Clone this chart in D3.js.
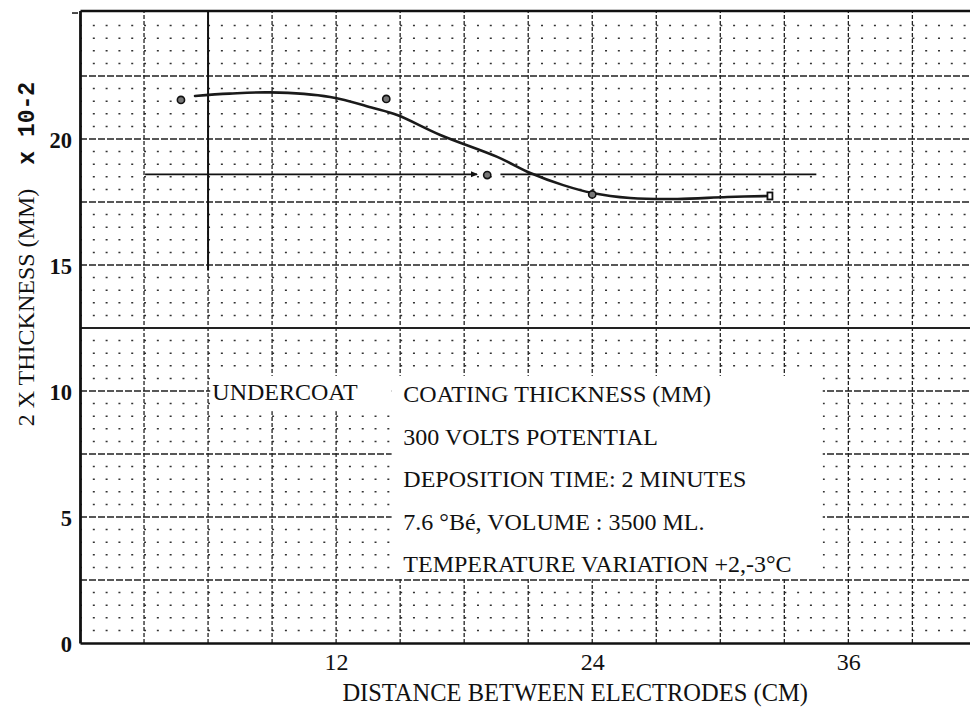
<!DOCTYPE html>
<html>
<head>
<meta charset="utf-8">
<script src="https://cdn.jsdelivr.net/npm/d3@7"></script>
<style>
  html, body { margin: 0; padding: 0; background: #fff; }
  svg { display: block; }
  text { font-family: "Liberation Serif", "Times New Roman", serif; fill: #111; }
</style>
</head>
<body>
<svg id="chart" width="970" height="710"></svg>
<script>
// Axis ticks
const xTicks = [12, 24, 36];
const yTicks = [0, 5, 10, 15, 20];

// Measured points (distance cm, 2x thickness mm x 10^-2)
const pointX = [4.73, 14.35, 19.08, 24.0];
const pointY = [21.55, 21.59, 18.57, 17.8];

// Smoothed thickness curve
const curveX = [5.39, 7.0, 8.91, 11.72, 13.74, 14.86, 16.88, 19.55, 21.1, 22.64, 24.0, 25.78, 27.99, 30.33, 32.35];
const curveY = [21.71, 21.8, 21.85, 21.67, 21.23, 20.95, 20.16, 19.29, 18.65, 18.17, 17.86, 17.66, 17.62, 17.7, 17.74];

// Horizontal reference level, drawn in two pieces around the middle point
const refLevel = 18.6;
const refStart = [3.05, 19.7];
const refEnd = [18.6, 34.5];

// Annotation text
const undercoatLabel = "UNDERCOAT";
const noteLines = [
  "COATING THICKNESS (MM)",
  "300 VOLTS POTENTIAL",
  "DEPOSITION TIME: 2 MINUTES",
  "7.6 °Bé, VOLUME : 3500 ML.",
  "TEMPERATURE VARIATION +2,-3°C"
];
const xTitle = "DISTANCE BETWEEN ELECTRODES (CM)";
const yTitleMain = "2 X THICKNESS (MM)";
const yTitleScale = "x 10-2";

const svg = d3.select("#chart");
const x = d3.scaleLinear().domain([0, 41.7]).range([80, 970]);
const y = d3.scaleLinear().domain([0, 25.1]).range([643, 10.5]);
const [x0, x1] = x.range();
const [yB, yT] = y.range();

// ---- graph-paper grid ----
const grid = svg.append("g");
const colStep = x(0.6) - x(0);
const minorRows = d3.range(1, 51).map(i => i * 0.5).filter(v => v % 2.5 !== 0 && v < 25.1);
grid.selectAll("line.row").data(minorRows).join("line")
  .attr("x1", x0).attr("x2", x1)
  .attr("y1", d => y(d)).attr("y2", d => y(d))
  .attr("stroke", "#333").attr("stroke-width", 1.5)
  .attr("stroke-dasharray", `2 ${colStep - 2}`);

const majorRows = d3.range(1, 11).map(i => i * 2.5).filter(v => v < 25);
grid.selectAll("line.major").data(majorRows).join("line")
  .attr("x1", x0).attr("x2", x1)
  .attr("y1", d => y(d)).attr("y2", d => y(d))
  .attr("stroke", "#222")
  .attr("stroke-width", d => d === 12.5 ? 1.8 : 1.3)
  .attr("stroke-dasharray", d => d === 12.5 ? null : "7 2");

const majorCols = d3.range(1, 14).map(i => i * 3).filter(v => v < 41.7);
grid.selectAll("line.col").data(majorCols).join("line")
  .attr("x1", d => x(d)).attr("x2", d => x(d))
  .attr("y1", yB).attr("y2", yT)
  .attr("stroke", "#222")
  .attr("stroke-width", 1.3)
  .attr("stroke-dasharray", "4 2");
// heavier solid upper part of the 6 cm line
grid.append("line")
  .attr("x1", x(6)).attr("x2", x(6))
  .attr("y1", y(14.8)).attr("y2", yT)
  .attr("stroke", "#111").attr("stroke-width", 2);

// ---- cleared areas behind the annotation ----
const noteX = 15.15;
const noteTop = 10.6, noteBottom = 2.55;
svg.append("rect")
  .attr("x", x(6.1)).attr("y", y(noteTop))
  .attr("width", x(noteX - 0.55) - x(6.1)).attr("height", y(9.2) - y(noteTop))
  .attr("fill", "#fff");
svg.append("rect")
  .attr("x", x(noteX - 0.55)).attr("y", y(noteTop))
  .attr("width", x(34.8) - x(noteX - 0.55)).attr("height", y(noteBottom) - y(noteTop))
  .attr("fill", "#fff");

// ---- frame / axes ----
const frame = svg.append("g");
frame.append("g").attr("transform", `translate(0,${yT})`)
  .call(d3.axisTop(x).tickValues([]).tickSizeOuter(0))
  .call(g => g.select(".domain").attr("stroke", "#111").attr("stroke-width", 2.6));

const xAxis = frame.append("g").attr("transform", `translate(0,${yB})`)
  .call(d3.axisBottom(x).tickValues(xTicks).tickSize(0).tickSizeOuter(0));
xAxis.select(".domain").attr("stroke", "#111").attr("stroke-width", 2.6);
xAxis.selectAll("text")
  .attr("y", 27).attr("dy", 0)
  .style("font-family", '"Liberation Serif", serif')
  .style("font-size", "24px").attr("fill", "#111");

const yAxis = frame.append("g").attr("transform", `translate(${x0},0)`)
  .call(d3.axisLeft(y).tickValues(yTicks).tickSize(0).tickPadding(8).tickSizeOuter(0));
yAxis.select(".domain").attr("stroke", "#111").attr("stroke-width", 2.8);
yAxis.selectAll("text")
  .attr("dy", "0.36em")
  .style("font-family", '"Liberation Serif", serif')
  .style("font-weight", "bold")
  .style("font-size", "22.5px").attr("fill", "#111");
// small tick at the top of the scale
yAxis.append("line")
  .attr("x1", -8).attr("x2", -2)
  .attr("y1", y(25)).attr("y2", y(25))
  .attr("stroke", "#111").attr("stroke-width", 1.5);

// ---- titles ----
svg.append("text")
  .attr("x", x(23.2)).attr("y", 701)
  .attr("text-anchor", "middle")
  .style("font-size", "24.5px")
  .text(xTitle);

const yt = svg.append("text")
  .attr("transform", `translate(34,${y(8.6)}) rotate(-90)`)
  .attr("text-anchor", "start")
  .style("font-size", "24px");
yt.append("tspan").text(yTitleMain);
yt.append("tspan")
  .attr("dx", 24)
  .style("font-family", '"Liberation Mono", "DejaVu Sans Mono", monospace')
  .style("font-weight", "bold")
  .style("font-size", "23px")
  .text(yTitleScale);

// ---- annotation ----
svg.append("text")
  .attr("x", x(6.2)).attr("y", y(9.65))
  .style("font-size", "24px")
  .text(undercoatLabel);

const lineGap = 42.5;
svg.append("g").selectAll("text").data(noteLines).join("text")
  .attr("x", x(noteX))
  .attr("y", (d, i) => y(9.56) + i * lineGap)
  .style("font-size", "24px")
  .text(d => d);

// ---- data marks ----
const marks = svg.append("g");

// reference level with arrow tip and gap around the middle point
marks.selectAll("line.ref").data(d3.range(refStart.length)).join("line")
  .attr("x1", i => x(refStart[i])).attr("x2", i => x(refEnd[i]))
  .attr("y1", y(refLevel)).attr("y2", y(refLevel))
  .attr("stroke", "#111").attr("stroke-width", 1.8);
const tipX = x(refEnd[0]), tipY = y(refLevel);
marks.append("path")
  .attr("d", `M${tipX - 6},${tipY - 3}L${tipX + 1},${tipY}L${tipX - 6},${tipY + 3}Z`)
  .attr("fill", "#111");

// thickness curve
const curvePts = curveX.map((d, i) => [x(d), y(curveY[i])]);
marks.append("path")
  .attr("d", d3.line().curve(d3.curveCatmullRom.alpha(0.5))(curvePts))
  .attr("fill", "none")
  .attr("stroke", "#1a1a1a")
  .attr("stroke-width", 2.6)
  .attr("stroke-linecap", "round");

// end marker of the curve
const endPt = curvePts[curvePts.length - 1];
marks.append("rect")
  .attr("x", endPt[0] - 3).attr("y", endPt[1] - 3.5)
  .attr("width", 5).attr("height", 7)
  .attr("fill", "#fff").attr("stroke", "#111").attr("stroke-width", 1.8);

// measured points
marks.selectAll("circle").data(pointX.map((d, i) => [d, pointY[i]])).join("circle")
  .attr("cx", d => x(d[0])).attr("cy", d => y(d[1]))
  .attr("r", 3.6)
  .attr("fill", "#777")
  .attr("stroke", "#111").attr("stroke-width", 1.6);
</script>
</body>
</html>
